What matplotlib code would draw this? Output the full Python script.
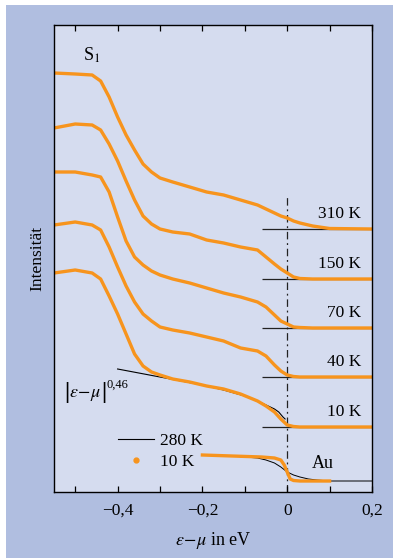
import matplotlib
matplotlib.use('Agg')
import matplotlib.pyplot as plt
from matplotlib.patches import Rectangle
from matplotlib.lines import Line2D

plt.rcParams['font.family'] = ['Liberation Serif', 'DejaVu Serif']
plt.rcParams['mathtext.fontset'] = 'stix'

orange = '#f7941d'
outer_blue = '#b0bee0'
inner_blue = '#d5dcef'

# energy grid in eV (shared by the five S1 spectra)
energy = [-0.55, -0.50, -0.46, -0.44, -0.42, -0.40, -0.38, -0.36, -0.34, -0.32,
          -0.30, -0.27, -0.23, -0.19, -0.15, -0.11, -0.07, -0.05, -0.03, -0.015,
          0.0, 0.015, 0.03, 0.06, 0.10, 0.20]

# intensity above each baseline (arb. units)
i_310 = [156, 155, 154, 148, 132, 112, 94, 79, 65, 57, 51, 47, 42, 37, 34, 29,
         24, 20, 16, 13, 11, 8, 6, 3, 0.5, 0]
i_150 = [151, 155, 154, 149, 135, 118, 98, 79, 63, 55, 50, 47, 45, 39, 36, 32,
         29, 22, 15, 10, 6, 2, 0.5, 0, 0, 0]
i_70 = [156, 156, 153, 151, 136, 111, 87, 71, 63, 57, 53, 49, 45, 40, 35, 31,
        26, 21, 13, 7, 4, 1, 0.5, 0, 0, 0]
i_40 = [152, 155, 152, 147, 130, 110, 91, 75, 63, 56, 50, 47, 44, 40, 36, 29,
        26, 21, 12, 6, 2, 0.5, 0, 0, 0, 0]
i_10 = [154, 157, 154, 148, 131, 113, 93, 73, 61, 55, 52, 48, 45, 41, 38, 33,
        26, 21, 15, 8, 2, 0.5, 0, 0, 0, 0]

temps = ['10 K', '40 K', '70 K', '150 K', '310 K']
spectra = [i_10, i_40, i_70, i_150, i_310]
offsets = [65, 115, 164, 213, 263]

# power law fit |e-mu|^0.46 on the 10 K spectrum
fit_energy = [-0.40, -0.35, -0.30, -0.25, -0.20, -0.15, -0.10, -0.07, -0.05,
              -0.03, -0.02, -0.01, -0.005]
fit_int = [58, 54, 50, 46, 42, 37, 31, 26, 22, 18, 15, 10, 8]

# gold reference
au_offset = 11
au10_energy = [-0.20, -0.13, -0.06, -0.03, -0.015, -0.007, 0.0, 0.007, 0.015,
               0.03, 0.10]
au10_int = [26, 25, 24, 23, 21, 16, 9, 2, 0.5, 0, 0]
au280_energy = [-0.20, -0.13, -0.07, -0.05, -0.03, -0.015, 0.0, 0.015, 0.03,
                0.05, 0.07, 0.10, 0.20]
au280_int = [26, 25, 23, 21, 18, 14, 9, 6, 4, 2, 1, 0, 0]

fig = plt.figure(figsize=(3.93, 5.58), dpi=100)
fig.patch.set_facecolor('white')
fig.add_artist(Rectangle((6 / 393, 0), 1, 553 / 558, transform=fig.transFigure,
                         facecolor=outer_blue, edgecolor='none', zorder=-1))

ax = fig.add_axes([54 / 393, 66 / 558, 318 / 393, 467 / 558])
ax.set_facecolor(inner_blue)
ax.set_xlim(-0.55, 0.2)
ax.set_ylim(0, 467)

# baselines and Fermi level
for off in offsets:
    ax.hlines(off, -0.06, 0.2, color='#222222', lw=0.9, zorder=1)
ax.vlines(0, 0, 297, color='#222222', lw=0.9, linestyles=(0, (6, 3, 1.5, 3)), zorder=1)

# spectra
for off, spec, lab in zip(offsets, spectra, temps):
    ax.plot(energy, [v + off for v in spec], color=orange, lw=2.4,
            solid_capstyle='round', solid_joinstyle='round', zorder=2)
    ax.text(0.175, off + 15, lab, ha='right', va='center', fontsize=12.5)

ax.plot(fit_energy, [v + offsets[0] for v in fit_int], color='black', lw=0.8, zorder=1.5)

ax.plot(au280_energy, [v + au_offset for v in au280_int], color='black', lw=0.7, zorder=1.5)
ax.plot(au10_energy, [v + au_offset for v in au10_int], color=orange, lw=2.4, zorder=2)

ax.text(-0.46, 437, r'S$_1$', ha='center', va='center', fontsize=13)
ax.text(0.083, 28, 'Au', ha='center', va='center', fontsize=13)

# |e-mu|^0,46 label, tall bars drawn separately
ax.text(-0.519, 99.5, '|', ha='center', va='center', fontsize=17, fontweight='bold')
ax.text(-0.476, 95, r'$\varepsilon\!-\!\mu$', ha='center', va='baseline', fontsize=13)
ax.text(-0.432, 99.5, '|', ha='center', va='center', fontsize=17, fontweight='bold')
ax.text(-0.427, 107, '0,46', ha='left', va='center', fontsize=9)

handles = [Line2D([], [], color='black', lw=0.8),
           Line2D([], [], color=orange, marker='o', ls='', markersize=3.5)]
ax.legend(handles, ['280 K', '10 K'], loc='upper left', bbox_to_anchor=(0.201, 0.127),
          frameon=False, fontsize=12.5, handlelength=2.1, handletextpad=0.3,
          labelspacing=0.3, borderpad=0, borderaxespad=0)

ax.set_xticks([-0.4, -0.2, 0, 0.2])
ax.set_xticklabels(['\u22120,4', '\u22120,2', '0', '0,2'], fontsize=12.5)
ax.set_xticks([-0.5, -0.3, -0.1, 0.1], minor=True)
ax.tick_params(axis='x', which='both', direction='in', top=True, length=4, width=0.9, pad=8)
ax.set_yticks([])
for s in ax.spines.values():
    s.set_linewidth(1.0)

ax.set_xlabel(r'$\varepsilon\!-\!\mu$ in eV', fontsize=13, labelpad=8)
ax.set_ylabel('Intensität', fontsize=12.5, labelpad=6)

fig.savefig('out.png', dpi=100)
